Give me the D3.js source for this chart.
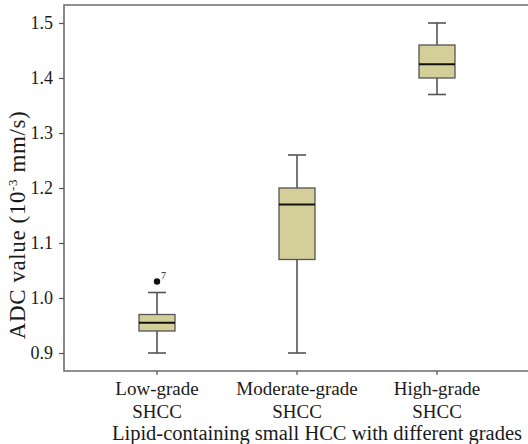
<!DOCTYPE html>
<html><head><meta charset="utf-8">
<script src="https://cdn.jsdelivr.net/npm/d3@7"></script>
<style>
body{margin:0;background:#fff;}
svg text{font-family:'Liberation Serif','Tinos','DejaVu Serif',serif !important;fill:#1a1a1a;}
</style></head>
<body><svg id="c" width="528" height="444"></svg>
<script>
const categories = ["Low-grade|SHCC", "Moderate-grade|SHCC", "High-grade|SHCC"];
const whiskerLow = [0.90, 0.90, 1.37];
const q1 = [0.94, 1.07, 1.40];
const median = [0.955, 1.17, 1.425];
const q3 = [0.97, 1.20, 1.46];
const whiskerHigh = [1.01, 1.26, 1.50];
const outliers = [{cat: 0, value: 1.03, label: "7"}];
const yTicks = [0.9, 1.0, 1.1, 1.2, 1.3, 1.4, 1.5];
const xTitle = "Lipid-containing small HCC with different grades";

(function () {
const svg = d3.select("#c");
const mLeft = 64, mTop = 5, mBottom = 371, mRight = 528;
const y = d3.scaleLinear().domain([0.9, 1.5]).range([353, 23]);
const x = d3.scaleBand().domain(categories).range([87, 507]).padding(0);

const boxW = 36, capW = 18;
const stroke = "#555";

svg.append("path")
  .attr("d", `M${mRight},${mTop}H${mLeft}V${mBottom}H${mRight}`)
  .attr("fill", "none").attr("stroke", "#6b6b6b").attr("stroke-width", 1.6);

const yAxis = svg.append("g").attr("transform", `translate(${mLeft},0)`)
  .call(d3.axisLeft(y).tickValues(yTicks).tickFormat(d3.format(".1f")).tickSize(5).tickPadding(6));
yAxis.attr("font-family", null);
yAxis.select(".domain").remove();
yAxis.selectAll(".tick line").attr("stroke", "#555").attr("stroke-width", 1.2);
yAxis.selectAll(".tick text").style("font-size", "18px").attr("fill", "#1a1a1a");

const xAxis = svg.append("g").attr("transform", `translate(0,${mBottom})`)
  .call(d3.axisBottom(x).tickSize(4).tickFormat(""));
xAxis.select(".domain").remove();
xAxis.selectAll(".tick line").attr("stroke", "#555").attr("stroke-width", 1.2);

categories.forEach((c) => {
  const cx = x(c) + x.bandwidth() / 2;
  const parts = c.split("|");
  const t = svg.append("text").attr("text-anchor", "middle").style("font-size", "19px");
  t.append("tspan").attr("x", cx).attr("y", 395).text(parts[0]);
  t.append("tspan").attr("x", cx).attr("y", 418).text(parts[1]);
});

svg.append("text").attr("x", 317).attr("y", 440).attr("text-anchor", "middle")
  .style("font-size", "20.5px").text(xTitle);

const yt = svg.append("text").attr("transform", "translate(25,225) rotate(-90)")
  .attr("text-anchor", "middle").style("font-size", "23px").style("letter-spacing", "0.6px");
yt.append("tspan").text("ADC value (10");
yt.append("tspan").attr("dy", -8).style("font-size", "13px").text("-3");
yt.append("tspan").attr("dy", 8).text(" mm/s)");

categories.forEach((c, i) => {
  const cx = x(c) + x.bandwidth() / 2;
  const g = svg.append("g");
  g.append("line").attr("x1", cx).attr("x2", cx).attr("y1", y(whiskerLow[i])).attr("y2", y(q1[i]))
    .attr("stroke", stroke).attr("stroke-width", 1.6);
  g.append("line").attr("x1", cx).attr("x2", cx).attr("y1", y(q3[i])).attr("y2", y(whiskerHigh[i]))
    .attr("stroke", stroke).attr("stroke-width", 1.6);
  [whiskerLow[i], whiskerHigh[i]].forEach(v => {
    g.append("line").attr("x1", cx - capW / 2).attr("x2", cx + capW / 2).attr("y1", y(v)).attr("y2", y(v))
      .attr("stroke", stroke).attr("stroke-width", 1.6);
  });
  g.append("rect").attr("x", cx - boxW / 2).attr("width", boxW)
    .attr("y", y(q3[i])).attr("height", y(q1[i]) - y(q3[i]))
    .attr("fill", "#d4cf98").attr("stroke", stroke).attr("stroke-width", 1.3);
  g.append("line").attr("x1", cx - boxW / 2).attr("x2", cx + boxW / 2)
    .attr("y1", y(median[i])).attr("y2", y(median[i]))
    .attr("stroke", "#111").attr("stroke-width", 2.2);
});

outliers.forEach(o => {
  const cx = x(categories[o.cat]) + x.bandwidth() / 2;
  svg.append("circle").attr("cx", cx).attr("cy", y(o.value)).attr("r", 3.2).attr("fill", "#111");
  svg.append("text").attr("x", cx + 4).attr("y", y(o.value) - 3)
    .style("font-size", "10px").text(o.label);
});
})();
</script></body></html>
